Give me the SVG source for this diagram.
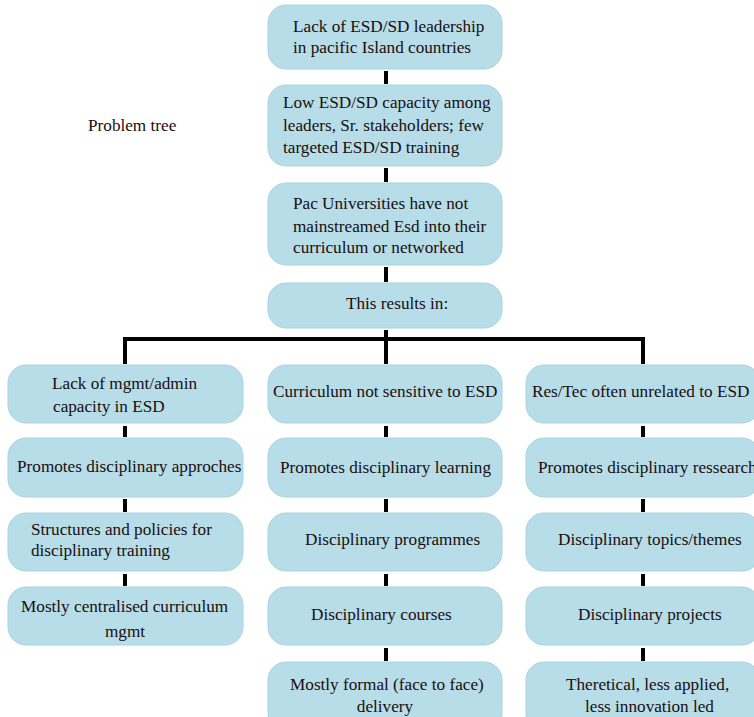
<svg xmlns="http://www.w3.org/2000/svg" width="754" height="717" viewBox="0 0 754 717">
<style>
.b{fill:#b7dde8;stroke:#a9d3df;stroke-width:1}
.t{font-family:'Liberation Serif','Times New Roman','DejaVu Serif',serif;font-size:17.2px;fill:#1a0e0e}
.c{stroke:#000;stroke-width:4;fill:none}
</style>
<rect width="754" height="717" fill="#fff"/>
<text class="t" x="88" y="131">Problem tree</text>
<g id="connectors">
<path class="c" d="M386 71V84M386 168V182M386 267V282M386 330V339M123 339H645M125 339V364M386 339V364M643 339V364"/>
<path class="c" d="M125 426V437M125 499V512M125 574V586"/>
<path class="c" d="M386 426V437M386 499V512M386 574V586M386 648V661"/>
<path class="c" d="M643 426V437M643 499V512M643 574V586M643 648V661"/>
</g>
<g id="top1"><rect class="b" x="268" y="5" width="234" height="64" rx="18"/><text class="t" x="293" y="32">Lack of ESD/SD leadership</text><text class="t" x="293" y="53">in pacific Island countries</text></g>
<g id="top2"><rect class="b" x="268" y="85" width="234" height="81" rx="18"/><text class="t" x="283" y="108">Low ESD/SD capacity among</text><text class="t" x="283" y="131">leaders, Sr. stakeholders; few</text><text class="t" x="283" y="153">targeted ESD/SD training</text></g>
<g id="top3"><rect class="b" x="268" y="183" width="234" height="82" rx="18"/><text class="t" x="293" y="209">Pac Universities have not</text><text class="t" x="293" y="232">mainstreamed Esd into their</text><text class="t" x="293" y="253">curriculum  or networked</text></g>
<g id="top4"><rect class="b" x="268" y="283" width="234" height="45" rx="18"/><text class="t" x="346" y="309">This results in:</text></g>

<g id="l1"><rect class="b" x="8" y="365" width="235" height="58" rx="18"/><text class="t" x="52" y="389">Lack of mgmt/admin</text><text class="t" x="53" y="412">capacity in  ESD</text></g>
<g id="l2"><rect class="b" x="8" y="438" width="235" height="59" rx="18"/><text class="t" x="17" y="472">Promotes disciplinary  approches</text></g>
<g id="l3"><rect class="b" x="8" y="513" width="235" height="58" rx="18"/><text class="t" x="31" y="535">Structures and policies  for</text><text class="t" x="31" y="556">disciplinary training</text></g>
<g id="l4"><rect class="b" x="8" y="587" width="235" height="58" rx="18"/><text class="t" x="21" y="612">Mostly centralised curriculum</text><text class="t" x="125" y="637" text-anchor="middle">mgmt</text></g>

<g id="m1"><rect class="b" x="268" y="365" width="234" height="58" rx="18"/><text class="t" x="273" y="397">Curriculum not sensitive to ESD</text></g>
<g id="m2"><rect class="b" x="268" y="438" width="234" height="59" rx="18"/><text class="t" x="280" y="473">Promotes disciplinary learning</text></g>
<g id="m3"><rect class="b" x="268" y="513" width="234" height="58" rx="18"/><text class="t" x="305" y="545">Disciplinary programmes</text></g>
<g id="m4"><rect class="b" x="268" y="587" width="234" height="58" rx="18"/><text class="t" x="311" y="620">Disciplinary courses</text></g>
<g id="m5"><rect class="b" x="268" y="662" width="234" height="70" rx="18"/><text class="t" x="290" y="690">Mostly formal (face to face)</text><text class="t" x="385" y="712" text-anchor="middle">delivery</text></g>

<g id="r1"><rect class="b" x="526" y="365" width="234" height="58" rx="18"/><text class="t" x="532" y="397">Res/Tec often unrelated to ESD</text></g>
<g id="r2"><rect class="b" x="526" y="438" width="234" height="59" rx="18"/><text class="t" x="538" y="473">Promotes disciplinary ressearch</text></g>
<g id="r3"><rect class="b" x="526" y="513" width="234" height="58" rx="18"/><text class="t" x="558" y="545">Disciplinary topics/themes</text></g>
<g id="r4"><rect class="b" x="526" y="587" width="234" height="58" rx="18"/><text class="t" x="578" y="620">Disciplinary projects</text></g>
<g id="r5"><rect class="b" x="526" y="662" width="234" height="70" rx="18"/><text class="t" x="566" y="690">Theretical, less applied,</text><text class="t" x="585" y="712">less innovation led</text></g>
</svg>
